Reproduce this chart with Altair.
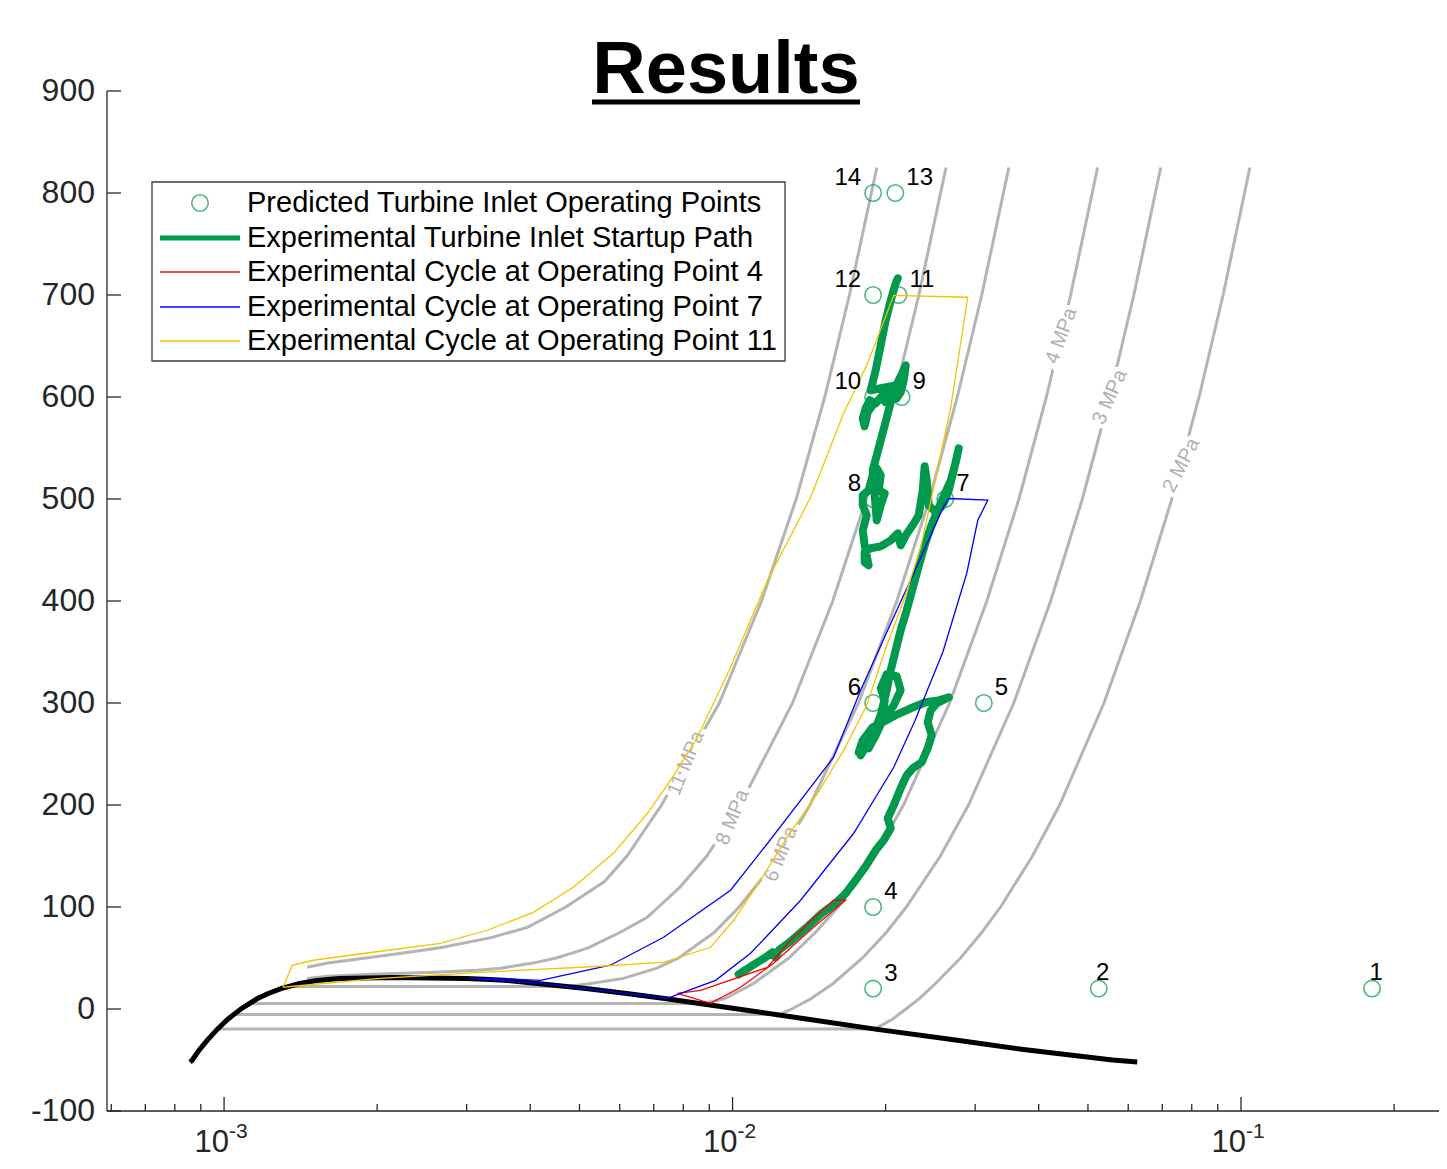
import altair as alt
import pandas as pd

FONT = "Liberation Sans"
AX = "#262626"
GRAY = "#b4b4b4"
GREEN = "#00994d"
YELLOW = "#f7c300"

# ---------------- data (specific volume v [m3/kg], temperature T [C]) ----------------
dome_v = [8.57e-4, 8.66e-4, 8.94e-4, 9.29e-4, 9.69e-4, 1.017e-3, 1.079e-3, 1.161e-3, 1.218e-3,
          1.294e-3, 1.408e-3, 1.524e-3, 1.600e-3, 1.686e-3, 2.139e-3, 2.994e-3, 3.330e-3, 3.620e-3,
          4.130e-3, 5.150e-3, 6.250e-3, 7.410e-3, 1.025e-2, 1.408e-2, 1.923e-2, 2.700e-2, 3.770e-2,
          5.590e-2, 6.250e-2]
dome_T = [-52, -50, -40, -30, -20, -10, 0, 10, 15, 20, 25, 28, 29, 30, 31, 30, 29, 28, 25, 20, 15,
          10, 0, -10, -20, -30, -40, -50, -52]

p2_v = [9.72e-4, 0.01905, 0.02063, 0.02193, 0.02327, 0.02507, 0.02808, 0.03091, 0.03366, 0.03889,
        0.04398, 0.05376, 0.0634, 0.0731, 0.0827, 0.0922, 0.1041]
p2_T = [-19.5, -19.5, -10, 0, 10, 25, 50, 75, 100, 150, 200, 300, 400, 500, 600, 700, 825]
p3_v = [1.04e-3, 0.01235, 0.01307, 0.01426, 0.01577, 0.01801, 0.02006, 0.02197, 0.02563, 0.02911,
        0.03573, 0.04223, 0.04875, 0.05517, 0.06155, 0.06951]
p3_T = [-5.5, -5.5, 0, 10, 25, 50, 75, 100, 150, 200, 300, 400, 500, 600, 700, 825]
p4_v = [1.115e-3, 0.0087, 0.00963, 0.0110, 0.0129, 0.01455, 0.01613, 0.01905, 0.02168, 0.02672,
        0.03163, 0.03658, 0.04142, 0.04623, 0.05223]
p4_T = [5.3, 5.3, 10, 25, 50, 75, 100, 150, 200, 300, 400, 500, 600, 700, 825]
p6_v = [1.318e-3, 0.00472, 0.00526, 0.0061, 0.0071, 0.00783, 0.0092, 0.0103, 0.0124, 0.0142,
        0.01769, 0.02104, 0.0244, 0.02767, 0.03091, 0.03494]
p6_T = [22, 22, 25, 30, 40, 50, 75, 100, 150, 200, 300, 400, 500, 600, 700, 825]
p8_v = [1.457e-3, 1.6e-3, 1.95e-3, 2.6e-3, 3.15e-3, 3.5e-3, 4.05e-3, 4.5e-3, 4.85e-3, 5.2e-3, 6.0e-3,
        6.8e-3, 7.15e-3, 7.9e-3, 8.9e-3, 0.01035, 0.01312, 0.01574, 0.01832, 0.0208, 0.02325, 0.02629]
p8_T = [30, 32, 34, 36, 38, 40, 45, 50, 55, 60, 75, 90, 100, 120, 150, 200, 300, 400, 500, 600, 700, 825]
p11_v = [1.457e-3, 1.6e-3, 1.9e-3, 2.25e-3, 2.66e-3, 3.35e-3, 3.95e-3, 4.7e-3, 5.6e-3, 6.2e-3, 7.25e-3,
         9.42e-3, 0.0114, 0.01334, 0.01518, 0.01698, 0.01922]
p11_T = [41, 45, 50, 55, 60, 70, 80, 100, 125, 150, 200, 300, 400, 500, 600, 700, 825]

iso_names = ["2 MPa", "3 MPa", "4 MPa", "6 MPa", "8 MPa", "11 MPa"]
iso_label_v = [0.0763, 0.05517, 0.0443, 0.01245, 0.0100, 0.0081]
iso_label_T = [533, 600, 660, 152, 188, 241]

op_id = [1, 2, 3, 4, 5, 6, 7, 8, 9, 10, 11, 12, 13, 14]
op_v = [0.181, 0.0525, 0.0189, 0.0189, 0.0312, 0.0189, 0.0262, 0.0189, 0.0215, 0.0189, 0.0212,
        0.0189, 0.0209, 0.0189]
op_T = [20, 20, 20, 100, 300, 300, 500, 500, 600, 600, 700, 700, 800, 800]

startup_v = [0.01028, 0.01095, 0.01161, 0.01199, 0.01215, 0.01232, 0.01301, 0.01392, 0.01490, 0.01595,
             0.01669, 0.01746, 0.01827, 0.01912, 0.01983, 0.02047, 0.02019, 0.02075, 0.02141, 0.02200,
             0.02261, 0.02355, 0.02420, 0.02464, 0.02420, 0.02453, 0.02521, 0.02662, 0.02544, 0.02398,
             0.02241, 0.02093, 0.01974, 0.01886, 0.01803, 0.01770, 0.01811, 0.01869, 0.01836, 0.01786,
             0.01827, 0.01912, 0.01974, 0.01992, 0.01956, 0.02010, 0.02103, 0.02141, 0.02075, 0.01974,
             0.01912, 0.01852, 0.01886, 0.01956, 0.02010, 0.02047, 0.02093, 0.02141, 0.02200, 0.02261,
             0.02323, 0.02387, 0.02453, 0.02521, 0.02591, 0.02686, 0.02748, 0.02785, 0.02723, 0.02662,
             0.02591, 0.02510, 0.02431, 0.02409, 0.02387, 0.02366, 0.02323, 0.02261, 0.02191, 0.02141,
             0.02113, 0.02047, 0.01956, 0.01869, 0.01819, 0.01819, 0.01852, 0.01819, 0.01803, 0.01836,
             0.01803, 0.01803, 0.01852, 0.01886, 0.01921, 0.01956, 0.01938, 0.01992, 0.01956, 0.01921,
             0.01886, 0.01921, 0.01956, 0.01992, 0.02028, 0.02065, 0.02113, 0.02161, 0.02191, 0.02171,
             0.02141, 0.02103, 0.02047, 0.02001, 0.01956, 0.01912, 0.01861, 0.01827, 0.01803, 0.01819,
             0.01844, 0.01886, 0.01938, 0.01992, 0.02028, 0.02065, 0.02103, 0.01869, 0.01912, 0.01956,
             0.02001, 0.02047, 0.02093, 0.02113]
startup_T = [34.0, 42.8, 50.7, 55.6, 50.7, 57.5, 66.4, 79.1, 92.8, 103.6,
             113.4, 126.2, 139.9, 155.6, 165.4, 177.2, 187.0, 199.7, 216.4, 229.1,
             236.0, 241.9, 255.6, 268.3, 281.1, 292.8, 299.7, 305.6, 302.6, 300.7,
             294.8, 288.0, 281.1, 276.2, 263.4, 251.7, 258.5, 270.3, 258.5, 248.7,
             263.4, 275.2, 288.0, 302.6, 314.4, 328.1, 326.2, 312.5, 297.7, 283.0,
             268.3, 255.6, 268.3, 288.0, 312.5, 332.1, 351.7, 371.3, 390.9, 412.5,
             434.0, 454.6, 472.3, 487.0, 500.7, 518.3, 536.0, 549.7, 528.1, 508.5,
             493.8, 487.0, 493.8, 518.3, 532.1, 508.5, 484.0, 474.2, 464.4, 454.6,
             466.4, 459.5, 453.6, 451.7, 447.8, 438.0, 435.0, 454.6, 469.3, 484.0,
             493.8, 503.6, 508.5, 523.2, 530.1, 523.2, 508.5, 505.6, 493.8, 479.1,
             528.1, 542.8, 557.5, 572.3, 587.0, 601.7, 614.4, 624.2, 631.1, 616.4,
             604.6, 598.7, 601.7, 594.8, 599.7, 593.8, 596.8, 588.9, 579.1, 571.3,
             585.0, 591.9, 596.8, 604.6, 596.8, 608.5, 611.5, 606.6, 626.2, 650.7,
             675.2, 694.8, 711.5, 716.4]

cyc4_v = [0.00779, 0.00865, 0.01172, 0.01283, 0.01443, 0.01580, 0.01669, 0.01443, 0.01204, 0.01037,
          0.00905, 0.00779]
cyc4_T = [15.4, 18.3, 40.9, 64.4, 89.0, 106.6, 106.6, 80.1, 44.8, 21.3, 5.6, 15.4]

cyc7_v = [0.02662, 0.03177, 0.03036, 0.02888, 0.02591, 0.02282, 0.02075, 0.01731, 0.01361, 0.01085,
          0.00926, 0.00790, 0.00745, 0.00550, 0.00419, 0.00305, 0.00357, 0.00419, 0.00575, 0.00732,
          0.00991, 0.01172, 0.01361, 0.01580, 0.01786, 0.02019, 0.02271, 0.02602, 0.02662]
cyc7_T = [500.5, 499.0, 479.1, 427.2, 349.7, 282.1, 237.0, 172.3, 106.6, 54.6,
          28.1, 15.4, 10.5, 18.3, 25.2, 30.1, 29.6, 28.1, 42.9, 70.3,
          116.4, 162.5, 204.6, 246.8, 312.5, 371.3, 427.2, 492.8, 500.5]

cyc11_v = [0.001306, 0.001361, 0.001497, 0.002028, 0.002661, 0.003293, 0.004058, 0.004864, 0.005831,
           0.006804, 0.007551, 0.008533, 0.00991, 0.01172, 0.01424, 0.01654, 0.01844, 0.02075, 0.02901,
           0.02686, 0.02487, 0.02345, 0.02171, 0.02001, 0.01836, 0.01654, 0.01457, 0.01283, 0.01135,
           0.01005, 0.00905, 0.00731, 0.00550, 0.00319, 0.002028, 0.001367, 0.001306]
cyc11_T = [21.3, 42.8, 47.8, 56.6, 64.4, 77.2, 94.8, 119.3, 152.6, 191.9, 224.2, 266.4, 335.0, 420.3,
           501.7, 584.0, 633.0, 699.7, 697.8, 589.9, 511.5, 452.6, 400.7, 353.6, 297.7, 253.6, 208.5,
           169.3, 126.2, 87.0, 60.5, 45.8, 41.9, 36.0, 30.1, 22.3, 21.3]

y_ticks = [-100, 0, 100, 200, 300, 400, 500, 600, 700, 800, 900]
y_tick_labels = ["-100", "0", "100", "200", "300", "400", "500", "600", "700", "800", "900"]
x_major = [1e-3, 1e-2, 1e-1]
x_major_exp = ["-3", "-2", "-1"]
x_minor = [6e-4, 7e-4, 8e-4, 9e-4, 2e-3, 3e-3, 4e-3, 5e-3, 6e-3, 7e-3, 8e-3, 9e-3,
           2e-2, 3e-2, 4e-2, 5e-2, 6e-2, 7e-2, 8e-2, 9e-2, 2e-1]

legend_labels = ["Predicted Turbine Inlet Operating Points",
                 "Experimental Turbine Inlet Startup Path",
                 "Experimental Cycle at Operating Point 4",
                 "Experimental Cycle at Operating Point 7",
                 "Experimental Cycle at Operating Point 11"]

# ---------------- styling / layout ----------------
W, H = 1332, 1020
iso_angles = [297, 294, 290, 292, 292, 292]
right_ids = [3, 4, 5, 7, 9, 11, 13]
left_ids = [6, 8, 10, 12, 14]
top_ids = [1, 2]

XS = alt.Scale(type="log", domain=[5.885e-4, 0.2451], nice=False)
YS = alt.Scale(domain=[-100, 900], nice=False, zero=False)


def path_df(vs, ts, **extra):
    d = pd.DataFrame({"v": vs, "T": ts, "i": list(range(len(vs)))})
    for k, val in extra.items():
        d[k] = val
    return d


iso_df = pd.concat([
    path_df(p2_v, p2_T, P="2 MPa"), path_df(p3_v, p3_T, P="3 MPa"), path_df(p4_v, p4_T, P="4 MPa"),
    path_df(p6_v, p6_T, P="6 MPa"), path_df(p8_v, p8_T, P="8 MPa"), path_df(p11_v, p11_T, P="11 MPa"),
], ignore_index=True)

ex = lambda: alt.X("v:Q", scale=XS, axis=None)
ey = lambda: alt.Y("T:Q", scale=YS, axis=None)
one = pd.DataFrame({"a": [0]})

iso = alt.Chart(iso_df).mark_line(color=GRAY, strokeWidth=3).encode(
    x=ex(), y=ey(), detail="P:N", order="i:Q")

# axes drawn by hand (MATLAB style: inward ticks, no box)
ydom = alt.Chart(one).mark_rule(color=AX, strokeWidth=1.3).encode(
    x=alt.value(0), y=alt.value(0), y2=alt.value(H))
xdom = alt.Chart(one).mark_rule(color=AX, strokeWidth=1.3).encode(
    x=alt.value(0), x2=alt.value(W), y=alt.value(H))
ytk_df = pd.DataFrame({"T": y_ticks, "lab": y_tick_labels})
ytk = alt.Chart(ytk_df).mark_rule(color=AX, strokeWidth=1.3).encode(
    y=ey(), x=alt.value(0), x2=alt.value(14))
ylab = alt.Chart(ytk_df).mark_text(
    align="right", baseline="middle", dx=-12, fontSize=32, font=FONT, color=AX).encode(
    y=ey(), x=alt.value(0), text="lab:N")
xmaj = alt.Chart(pd.DataFrame({"v": x_major})).mark_rule(color=AX, strokeWidth=1.3).encode(
    x=ex(), y=alt.value(H), y2=alt.value(H - 14))
xmin = alt.Chart(pd.DataFrame({"v": x_minor})).mark_rule(color=AX, strokeWidth=1.3).encode(
    x=ex(), y=alt.value(H), y2=alt.value(H - 7))
xl_df = pd.DataFrame({"v": x_major, "e": x_major_exp})
xl10 = alt.Chart(xl_df).mark_text(text="10", align="right", baseline="alphabetic", dx=5,
                                  fontSize=31, font=FONT, color=AX).encode(x=ex(), y=alt.value(H + 41))
xle = alt.Chart(xl_df).mark_text(align="left", baseline="alphabetic", dx=5, fontSize=21,
                                 font=FONT, color=AX).encode(x=ex(), y=alt.value(H + 27), text="e:N")

lab_df = pd.DataFrame({"v": iso_label_v, "T": iso_label_T, "txt": iso_names, "ang": iso_angles})
halo = alt.Chart(lab_df).mark_text(fontSize=20, font=FONT, color="white", stroke="white",
                                   strokeWidth=9, align="center", baseline="middle").encode(
    x=ex(), y=ey(), text="txt:N", angle=alt.Angle("ang:Q", scale=None))
isolab = alt.Chart(lab_df).mark_text(fontSize=20, font=FONT, color="#b0b0b0", align="center",
                                     baseline="middle").encode(
    x=ex(), y=ey(), text="txt:N", angle=alt.Angle("ang:Q", scale=None))

dome = alt.Chart(path_df(dome_v, dome_T)).mark_line(color="black", strokeWidth=5).encode(
    x=ex(), y=ey(), order="i:Q")

op_df = pd.DataFrame({"v": op_v, "T": op_T, "id": op_id, "lab": [str(i) for i in op_id]})
circles = alt.Chart(op_df).mark_point(shape="circle", filled=False, size=270, strokeWidth=1.6,
                                      color=GREEN).encode(x=ex(), y=ey())

green = alt.Chart(path_df(startup_v, startup_T)).mark_line(
    color=GREEN, strokeWidth=8, strokeCap="round", strokeJoin="round").encode(x=ex(), y=ey(), order="i:Q")
red = alt.Chart(path_df(cyc4_v, cyc4_T)).mark_line(color="#ff0000", strokeWidth=1.3).encode(
    x=ex(), y=ey(), order="i:Q")
blue = alt.Chart(path_df(cyc7_v, cyc7_T)).mark_line(color="#0000ff", strokeWidth=1.3).encode(
    x=ex(), y=ey(), order="i:Q")
yellow = alt.Chart(path_df(cyc11_v, cyc11_T)).mark_line(color=YELLOW, strokeWidth=1.3).encode(
    x=ex(), y=ey(), order="i:Q")


def op_labels(ids, align, dx, dy):
    return alt.Chart(op_df).transform_filter(
        alt.FieldOneOfPredicate(field="id", oneOf=ids)).mark_text(
        align=align, baseline="middle", dx=dx, dy=dy, fontSize=24, font=FONT, color="black").encode(
        x=ex(), y=ey(), text="lab:N")


lab_r = op_labels(right_ids, "left", 11, -15)
lab_l = op_labels(left_ids, "right", -12, -15)
lab_t = op_labels(top_ids, "center", 4, -16)

title = alt.Chart(one).mark_text(text="Results", fontSize=74, fontWeight="bold", font=FONT,
                                 align="center", baseline="alphabetic", color="black").encode(
    x=alt.value(619), y=alt.value(2))
underline = alt.Chart(one).mark_rule(color="black", strokeWidth=5).encode(
    x=alt.value(485), x2=alt.value(753), y=alt.value(11))

legend_layers = [alt.Chart(one).mark_rect(fill="white", stroke="#3c3c3c", strokeWidth=1.3).encode(
    x=alt.value(45), x2=alt.value(678), y=alt.value(91), y2=alt.value(270))]
rows = [112, 147, 181, 216, 250]
legend_layers.append(alt.Chart(one).mark_point(shape="circle", filled=False, size=270, strokeWidth=1.6,
                                               color=GREEN).encode(x=alt.value(93), y=alt.value(rows[0])))
for r, col, sw in [(rows[1], GREEN, 5), (rows[2], "#ff0000", 1.6), (rows[3], "#0000ff", 1.6),
                   (rows[4], YELLOW, 1.6)]:
    legend_layers.append(alt.Chart(one).mark_rule(color=col, strokeWidth=sw).encode(
        x=alt.value(53), x2=alt.value(133), y=alt.value(r)))
for r, txt in zip(rows, legend_labels):
    legend_layers.append(alt.Chart(one).mark_text(text=txt, align="left", baseline="middle",
                                                  fontSize=29, font=FONT, color="black").encode(
        x=alt.value(140), y=alt.value(r)))

chart = alt.layer(
    iso, halo, isolab, dome, circles, green, red, blue, yellow,
    ydom, xdom, ytk, ylab, xmaj, xmin, xl10, xle,
    lab_r, lab_l, lab_t, title, underline, *legend_layers
).properties(
    width=W, height=H,
    padding={"left": 99, "top": 83, "right": 0, "bottom": 48},
    autosize=alt.AutoSizeParams(type="none"),
    background="white",
).configure_view(stroke=None, strokeWidth=0)

chart.save("out.html", embed_options={"renderer": "svg", "actions": False})
